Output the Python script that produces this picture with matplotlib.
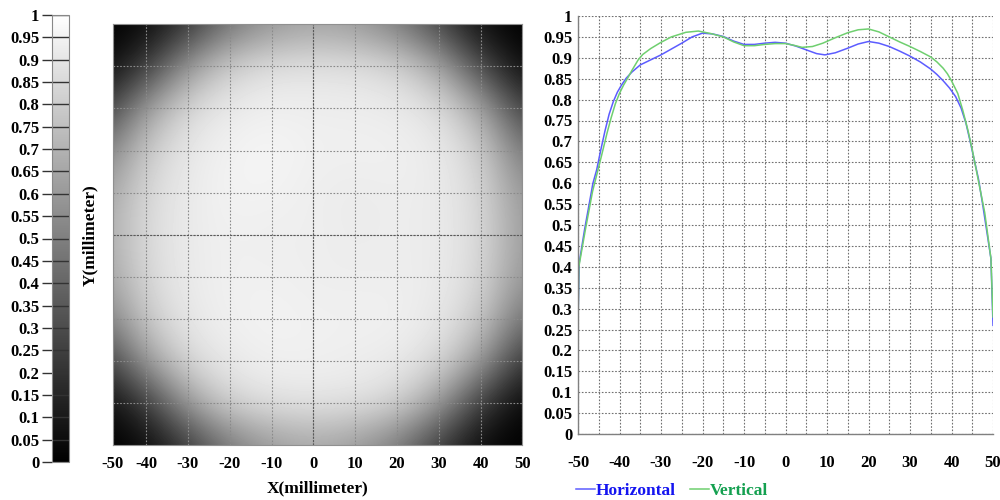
import numpy as np
import matplotlib
matplotlib.use("Agg")
import matplotlib.pyplot as plt

plt.rcParams['font.family'] = 'Liberation Serif'
plt.rcParams['font.weight'] = 'bold'
plt.rcParams['font.size'] = 12

# intensity map on a 10 mm grid (rows y=50..-50, cols x=-50..50)
map_x = [-50, -40, -30, -20, -10, 0, 10, 20, 30, 40, 50]
map_y = [50, 40, 30, 20, 10, 0, -10, -20, -30, -40, -50]
intensity = [
    [0.00, 0.03, 0.20, 0.45, 0.58, 0.63, 0.60, 0.48, 0.26, 0.04, 0.00],
    [0.03, 0.22, 0.60, 0.82, 0.88, 0.89, 0.88, 0.84, 0.66, 0.28, 0.03],
    [0.22, 0.62, 0.86, 0.92, 0.94, 0.93, 0.93, 0.92, 0.88, 0.66, 0.24],
    [0.48, 0.80, 0.91, 0.95, 0.96, 0.94, 0.94, 0.94, 0.92, 0.82, 0.46],
    [0.62, 0.85, 0.92, 0.95, 0.95, 0.93, 0.92, 0.93, 0.92, 0.85, 0.58],
    [0.66, 0.86, 0.92, 0.94, 0.93, 0.935, 0.92, 0.93, 0.92, 0.86, 0.60],
    [0.62, 0.85, 0.92, 0.94, 0.94, 0.93, 0.93, 0.93, 0.92, 0.85, 0.58],
    [0.48, 0.80, 0.91, 0.94, 0.95, 0.94, 0.94, 0.94, 0.91, 0.80, 0.44],
    [0.22, 0.62, 0.86, 0.92, 0.94, 0.94, 0.93, 0.92, 0.86, 0.62, 0.20],
    [0.03, 0.22, 0.62, 0.84, 0.89, 0.90, 0.89, 0.84, 0.62, 0.22, 0.02],
    [0.00, 0.03, 0.22, 0.47, 0.60, 0.65, 0.60, 0.47, 0.22, 0.03, 0.00],
]

# profiles through the centre
horiz_x = [-50, -49.7, -48.4, -46.4, -45.5, -44.5, -43.5, -42.5, -41.5, -40.5, -39.5, -38.4,
           -37, -35, -32.5, -30, -27.5, -25, -22.5, -20, -17.5, -15, -12.5, -10, -7.5, -5,
           -2.5, 0, 2.5, 5, 7.5, 9.5, 12, 15, 17.5, 20, 22.5, 25, 27.5, 30, 32.5, 35, 36.5,
           38, 39.5, 41, 42.3, 43.5, 44.5, 45.5, 46.5, 47.5, 49.5, 50]
horiz_y = [0.27, 0.41, 0.49, 0.60, 0.632, 0.68, 0.725, 0.765, 0.795, 0.818, 0.835, 0.851,
           0.866, 0.883, 0.895, 0.907, 0.921, 0.935, 0.95, 0.959, 0.957, 0.951, 0.94, 0.932,
           0.932, 0.935, 0.937, 0.935, 0.928, 0.919, 0.91, 0.907, 0.912, 0.923, 0.933, 0.939,
           0.935, 0.927, 0.916, 0.904, 0.89, 0.873, 0.86, 0.845, 0.828, 0.807, 0.78, 0.743,
           0.70, 0.655, 0.61, 0.55, 0.42, 0.26]
vert_x = [-50, -49.8, -48.2, -46.5, -44.4, -43, -42, -41, -40, -39, -38, -37, -35.5, -34.4,
          -32.5, -30, -27.5, -24, -21, -18, -15, -12.5, -10, -7.5, -5, -2.5, 0, 2, 4, 6.5, 9,
          12, 15, 17.5, 20, 22.5, 25, 27.5, 30, 32.5, 35, 36.5, 38, 39, 40, 41.5, 42.7, 44,
          45, 46, 47, 48, 49.5, 50]
vert_y = [0.25, 0.40, 0.49, 0.58, 0.663, 0.72, 0.757, 0.79, 0.815, 0.835, 0.852, 0.87, 0.895,
          0.908, 0.922, 0.937, 0.95, 0.961, 0.964, 0.958, 0.950, 0.938, 0.929, 0.929, 0.932,
          0.934, 0.934, 0.93, 0.925, 0.927, 0.935, 0.948, 0.960, 0.967, 0.969, 0.962, 0.950,
          0.938, 0.927, 0.915, 0.902, 0.89, 0.875, 0.862, 0.845, 0.815, 0.775, 0.725, 0.68,
          0.63, 0.58, 0.53, 0.42, 0.28]

tick_vals = [round(0.05 * i, 2) for i in range(21)]
tick_labels = ['0', '0.05', '0.1', '0.15', '0.2', '0.25', '0.3', '0.35', '0.4', '0.45', '0.5',
               '0.55', '0.6', '0.65', '0.7', '0.75', '0.8', '0.85', '0.9', '0.95', '1']
x_labels = ['-50', '-40', '-30', '-20', '-10', '0', '10', '20', '30', '40', '50']

fig = plt.figure(figsize=(10, 5), dpi=100)

# ---- intensity image ----
ax_img = fig.add_axes([0.1127, 0.11, 0.4096, 0.8414])
im = ax_img.imshow(np.array(intensity), cmap='gray', vmin=0, vmax=1,
                   extent=(-55, 55, -55, 55), interpolation='bicubic', aspect='auto')
ax_img.set_xlim(-48, 50)
ax_img.set_ylim(-50, 50)
ax_img.set_xticks([-48] + map_x[1:])
ax_img.set_xticklabels(x_labels)
ax_img.set_yticks(map_y[1:-1])
ax_img.set_yticklabels([])
ax_img.tick_params(length=0, pad=8, labelsize=12)
ax_img.grid(True, linestyle=(0, (1.5, 1.5)), color='#8a8a8a', linewidth=0.8)
ax_img.axvline(0, color='#5a5a5a', linewidth=0.8, linestyle=(0, (2, 1)))
ax_img.axhline(0, color='#5a5a5a', linewidth=0.8, linestyle=(0, (2, 1)))
for s in ax_img.spines.values():
    s.set_color('#909090')
    s.set_linewidth(0.8)
ax_img.set_xlabel('X(millimeter)', fontsize=12.5, fontweight='bold')
ax_img.xaxis.set_label_coords(0.5, -0.085)
ax_img.set_ylabel('Y(millimeter)', fontsize=12.5, fontweight='bold')
ax_img.yaxis.set_label_coords(-0.035, 0.5)

# ---- colour bar ----
cax = fig.add_axes([0.052, 0.076, 0.017, 0.894])
cb = fig.colorbar(im, cax=cax)
cb.set_ticks(tick_vals)
cb.set_ticklabels(tick_labels)
cax.yaxis.set_ticks_position('left')
cax.tick_params(length=7, width=1, color='#333333', pad=2, labelsize=12)
cax.hlines(tick_vals, 0, 1, colors='#333333', linewidth=1)
cb.outline.set_edgecolor('#888888')
cb.outline.set_linewidth(0.8)

# ---- profiles ----
ax = fig.add_axes([0.578, 0.132, 0.415, 0.836])
ax.plot(horiz_x, horiz_y, color='#5c5cff', linewidth=1.1, label='Horizontal')
ax.plot(vert_x, vert_y, color='#6fcf6f', linewidth=1.1, label='Vertical')
ax.set_xlim(-50, 50)
ax.set_ylim(0, 1)
ax.set_xticks([int(v) for v in x_labels])
ax.set_xticklabels(x_labels)
ax.set_xticks(np.arange(-45, 50, 10), minor=True)
ax.set_yticks(tick_vals)
ax.set_yticklabels(tick_labels)
ax.tick_params(which='both', length=0, labelsize=12)
ax.tick_params(axis='x', pad=15)
ax.tick_params(axis='y', pad=4)
ax.grid(True, which='both', linestyle=(0, (1.5, 1.5)), color='#707070', linewidth=0.8)
for side in ['top', 'right']:
    ax.spines[side].set_visible(False)
for side in ['left', 'bottom']:
    ax.spines[side].set_color('#808080')
    ax.spines[side].set_linewidth(1)

leg = ax.legend(loc='upper left', bbox_to_anchor=(-0.005, -0.117), ncol=2, frameon=False,
                handlelength=1.1, handletextpad=0.05, columnspacing=0.8, borderaxespad=0,
                borderpad=0, prop={'family': 'Liberation Serif', 'weight': 'bold', 'size': 12.5})
leg.get_texts()[0].set_color('#1414f0')
leg.get_texts()[1].set_color('#14a050')

fig.savefig('out.png', dpi=100)
